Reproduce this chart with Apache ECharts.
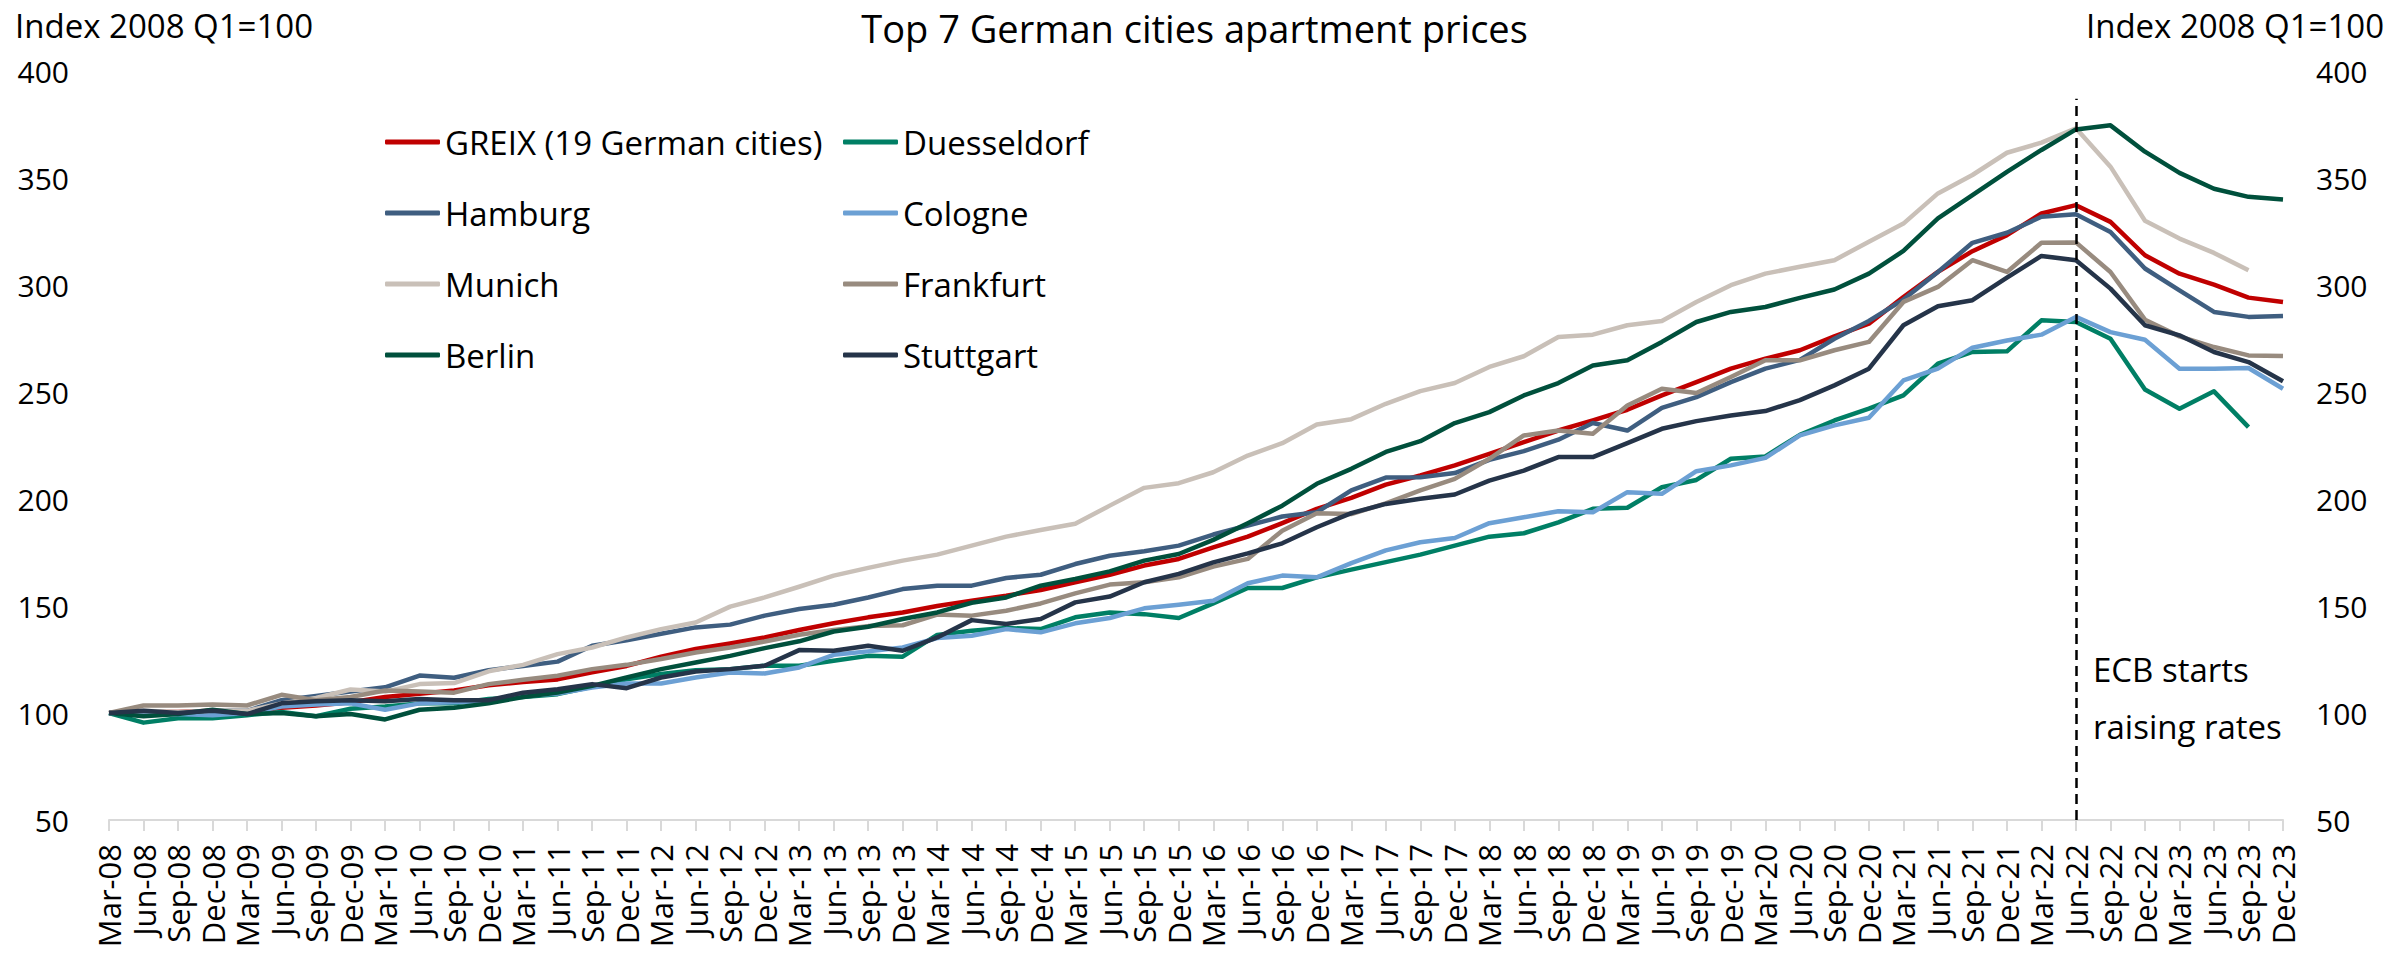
<!DOCTYPE html>
<html>
<head>
<meta charset="utf-8">
<title>Top 7 German cities apartment prices</title>
<script src="https://cdn.jsdelivr.net/npm/echarts@6/dist/echarts.min.js"></script>
<style>
  html, body { margin: 0; padding: 0; background: #fff; }
  #chart { width: 2389px; height: 954px; }
</style>
</head>
<body>
<div id="chart"></div>
<script>
// quarterly labels Mar-08 .. Dec-23
const months = ['Mar', 'Jun', 'Sep', 'Dec'];
const years = ['08', '09', '10', '11', '12', '13', '14', '15', '16', '17', '18', '19', '20', '21', '22', '23'];
const quarters = [];
years.forEach(y => months.forEach(m => quarters.push(m + '-' + y)));

const yTicks = { min: 50, max: 400, step: 50 };

const greix = [100, 100.5, 100.5, 101, 100.5, 102.5, 103.5, 105, 107.5, 109, 110.5, 113, 114.5,
  115.7, 119, 122, 126.3, 129.9, 132.5, 135.3, 138.8, 141.9, 144.7, 147, 150,
  152.5, 154.8, 157.5, 161.1, 164.6, 168.9, 172, 177.4, 182.4, 188.7, 195.4, 200.5, 206.7,
  211, 215.7, 221.1, 226.6, 232, 236.7, 241.7, 248.4, 254.6, 260.9, 265.6, 269.5,
  276, 281.9, 294.4, 306.1, 315.8, 323.3, 333.4, 337.3, 329.5, 313.9, 305.3, 300.2, 294.1, 292.1];
const duesseldorf = [100, 95.5, 97.5, 97.5, 99, 100.5, 98.5, 102, 103, 104.5, 104.5, 106.5, 107.5,
  108.8, 112.2, 115.8, 118.2, 120, 120.5, 122.1, 122.1, 124.4, 126.7, 126.3, 136.5,
  138.4, 139.7, 139.2, 144.7, 147, 146.2, 144.4, 151.2, 158.4, 158.4, 163.4, 167, 170.5,
  174, 178.2, 182.4, 184, 189.1, 195.4, 195.9, 205.5, 208.9, 218.8, 219.9, 230,
  236.7, 242.2, 248.4, 263.2, 268.7, 269, 283.5, 282.7, 274.9, 251.2, 242.2, 250.3, 233.6, null];
const hamburg = [100, 100.5, 100, 101, 101, 106, 108, 110, 112, 117.5, 116.5, 120, 122,
  124, 131.4, 134, 137, 140, 141.3, 145.5, 148.6, 150.6, 154, 157.9, 159.5,
  159.5, 163.1, 164.6, 169.6, 173.5, 175.6, 178.2, 183.4, 187.6, 191.8, 193.8, 204, 210,
  210.2, 212.1, 218.3, 222.4, 227.7, 235.5, 232, 242.6, 247.6, 254.6, 260.9, 265,
  274.9, 283.2, 293.2, 306.1, 319.7, 324.4, 331.9, 333.1, 324.8, 307.7, 297.5, 287.4, 285.1, 285.5];
const cologne = [100, 99, 99.5, 99, 100, 103, 104, 104.5, 101.5, 104.5, 105, 105.5, 108,
  109.1, 111.9, 113.8, 113.8, 116.6, 118.9, 118.5, 121.3, 127.2, 128.8, 130.6, 135,
  136.1, 139.2, 137.7, 141.9, 144.4, 148.9, 150.6, 152.5, 160.6, 164.2, 163.4, 170, 176,
  179.8, 181.8, 188.7, 191.5, 194.3, 193.8, 203.2, 202.4, 213, 215.7, 219.2, 229.7,
  234.4, 238, 255.4, 260.9, 270.7, 274.1, 276.8, 285.1, 278, 274.4, 260.9, 260.9, 261.2, 251.5];
const munich = [100, 101, 100.5, 101, 101, 104.5, 107, 111, 110, 113.5, 114, 119.5, 122.5,
  127.5, 130.6, 135.3, 139.2, 142.3, 149.7, 154, 159, 164.2, 167.8, 171.2, 174,
  178.2, 182.4, 185.5, 188.4, 196.9, 205.2, 207.4, 212.5, 220.3, 226.1, 234.8, 237.3, 244.5,
  250.4, 254.2, 261.7, 266.7, 275.7, 276.8, 281.2, 283.2, 292.1, 299.9, 305.3, 308.5,
  311.6, 320.2, 328.7, 342.8, 351.4, 361.8, 366.5, 373.2, 355.3, 330, 321.7, 315, 306.9, null];
const frankfurt = [100, 103.5, 103.5, 104, 103.5, 108.5, 106, 107.5, 110.5, 110, 109.5, 113.5, 115.5,
  117.4, 120.5, 122.5, 125.2, 128.3, 130.6, 133.4, 136.6, 138.8, 140.6, 141, 146,
  145.5, 147.8, 151.2, 155.9, 160, 161.1, 163.4, 168.4, 172, 185.2, 193.3, 193, 198,
  204, 209.4, 218.8, 229.7, 232, 230.5, 243.7, 251.5, 249.5, 257, 264.8, 264.8,
  269.5, 273.4, 292.1, 299.1, 311.6, 306.1, 319.7, 319.9, 306.1, 283.8, 276, 271, 267.1, 266.8];
const berlin = [100, 98.5, 99.5, 101.5, 99.5, 100, 98.5, 99.5, 97, 101.5, 102.5, 104.5, 107.5,
  109.6, 112.7, 116.6, 120.5, 123.6, 126.7, 130.3, 133.5, 138.1, 140.3, 143.9, 147,
  151.5, 154, 159.5, 162.6, 166.2, 171.2, 174.3, 180.9, 188.7, 196.9, 207.1, 214.1, 222,
  227, 235.5, 240.6, 248.4, 254.2, 262.4, 264.8, 273.4, 282.7, 287.4, 289.7, 294,
  297.9, 305.3, 315.9, 331.1, 342, 352.9, 363.1, 372.7, 374.6, 362.3, 352.4, 345, 341.2, 340];
const stuttgart = [100, 101, 100, 101, 99.5, 104.5, 105.5, 106, 105.5, 106.5, 106, 106, 109.5,
  111.1, 113.5, 111.6, 116.6, 119.4, 120.5, 122.1, 129.4, 129.1, 131.4, 129.1, 135.3,
  143.4, 141.6, 143.9, 151.7, 154.4, 161.1, 165, 170.4, 174.6, 179.3, 186.8, 193.4, 197.7,
  200.1, 202.1, 208.6, 213.3, 219.6, 219.6, 226.1, 232.8, 236.4, 239, 241.1, 246.2,
  253.1, 260.9, 281.2, 290.1, 292.9, 303.5, 313.6, 311.6, 298.3, 281.2, 276.5, 268.7, 264, 255];

// ECB marker: quarter and vertical extent of the dashed line
const ecbQuarter = 'Jun-22';
const ecbRange = [50, 387];

// drawing order as in the original (later = on top)
const seriesList = [
  { name: 'GREIX (19 German cities)', data: greix, color: '#C00000' },
  { name: 'Duesseldorf', data: duesseldorf, color: '#007F65' },
  { name: 'Hamburg', data: hamburg, color: '#3F5E80' },
  { name: 'Cologne', data: cologne, color: '#6CA0D4' },
  { name: 'Munich', data: munich, color: '#C9C0B8' },
  { name: 'Frankfurt', data: frankfurt, color: '#988B7F' },
  { name: 'Berlin', data: berlin, color: '#00503C' },
  { name: 'Stuttgart', data: stuttgart, color: '#253449' }
];

const FONT = '"Open Sans", "Noto Sans", sans-serif';

const legendBase = {
  orient: 'vertical',
  top: 122,
  padding: 0,
  icon: 'roundRect',
  itemWidth: 55,
  itemHeight: 5,
  itemGap: 31,
  selectedMode: false,
  textStyle: { fontFamily: FONT, fontSize: 33, color: '#000', lineHeight: 40 }
};

const option = {
  animation: false,
  backgroundColor: '#fff',
  title: [{
    text: 'Top 7 German cities apartment prices',
    left: 'center',
    top: 9,
    padding: 0,
    textStyle: { fontFamily: FONT, fontSize: 38, fontWeight: 'normal', color: '#000' }
  }, {
    text: 'Index 2008 Q1=100',
    left: 15,
    top: 9,
    padding: 0,
    textStyle: { fontFamily: FONT, fontSize: 33, fontWeight: 'normal', color: '#000' }
  }, {
    text: 'Index 2008 Q1=100',
    right: 5,
    top: 9,
    padding: 0,
    textStyle: { fontFamily: FONT, fontSize: 33, fontWeight: 'normal', color: '#000' }
  }, {
    text: 'ECB starts\nraising rates',
    left: 2093,
    top: 641,
    padding: 0,
    textStyle: { fontFamily: FONT, fontSize: 33, fontWeight: 'normal', color: '#000', lineHeight: 57 }
  }],
  legend: [
    Object.assign({}, legendBase, { left: 385, data: ['GREIX (19 German cities)', 'Hamburg', 'Munich', 'Berlin'] }),
    Object.assign({}, legendBase, { left: 843, data: ['Duesseldorf', 'Cologne', 'Frankfurt', 'Stuttgart'] })
  ],
  grid: {
    left: 109,
    right: 106,
    top: 71,
    bottom: 134,
    containLabel: false,
    outerBoundsMode: 'none'
  },
  xAxis: {
    type: 'category',
    data: quarters,
    boundaryGap: false,
    axisLine: { lineStyle: { color: '#D9D9D9', width: 2 } },
    axisTick: { show: true, interval: 0, length: 11, lineStyle: { color: '#D9D9D9', width: 2 } },
    axisLabel: {
      interval: 0,
      rotate: 90,
      margin: 24,
      fontFamily: FONT,
      fontSize: 31,
      color: '#000'
    },
    splitLine: { show: false }
  },
  yAxis: [0, 1].map(k => ({
    type: 'value',
    position: k === 0 ? 'left' : 'right',
    min: yTicks.min,
    max: yTicks.max,
    interval: yTicks.step,
    axisLine: { show: false },
    axisTick: { show: false },
    splitLine: { show: false },
    axisLabel: {
      margin: k === 0 ? 40 : 33,
      fontFamily: FONT,
      fontSize: 30,
      color: '#000'
    }
  })),
  series: seriesList.map(s => ({
    name: s.name,
    type: 'line',
    data: s.data,
    showSymbol: false,
    symbol: 'none',
    color: s.color,
    lineStyle: { width: 4.5, color: s.color, join: 'round' },
    emphasis: { disabled: true }
  }))
};

// dashed vertical line where the ECB starts raising rates
option.series.push({
  name: 'ECB',
  type: 'line',
  data: [],
  markLine: {
    silent: true,
    symbol: 'none',
    label: { show: false },
    lineStyle: { type: [10, 6], color: '#000', width: 2.5 },
    data: [[{ coord: [ecbQuarter, ecbRange[0]] }, { coord: [ecbQuarter, ecbRange[1]] }]]
  }
});

const chart = echarts.init(document.getElementById('chart'), null, { renderer: 'svg' });
chart.setOption(option);
window.addEventListener('resize', () => {
  chart.resize();
});
</script>
</body>
</html>
